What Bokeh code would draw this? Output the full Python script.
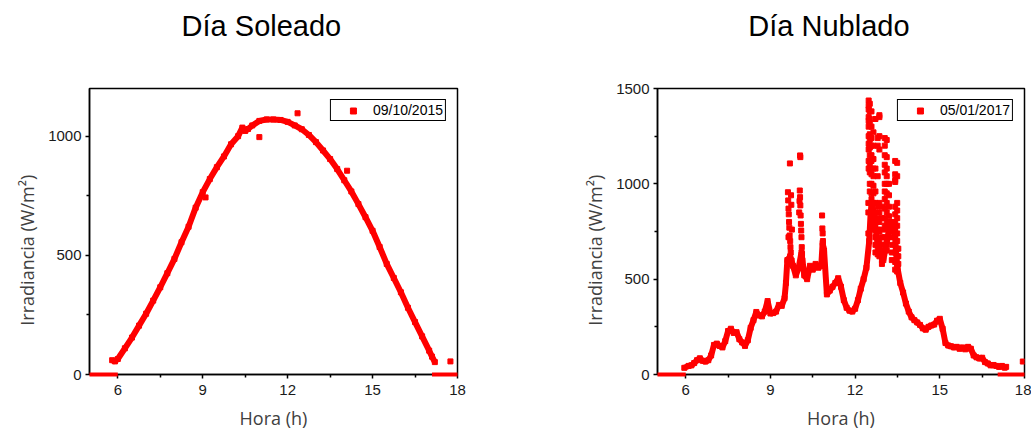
from bokeh.plotting import figure
from bokeh.models import FixedTicker, Legend, LegendItem, Range1d, Title
from bokeh.layouts import row
from bokeh.embed import file_html
from bokeh.resources import INLINE

# ---------------- data: sunny day 09/10/2015 ----------------
sunny_hours = [5.8, 5.9, 6.0, 6.25, 6.5, 6.75, 7.0, 7.25, 7.5, 7.75, 8.0, 8.25, 8.5, 8.75,
               9.0, 9.25, 9.5, 9.75, 10.0, 10.25, 10.4, 10.5, 10.6, 10.75, 11.0, 11.25,
               11.5, 11.75, 12.0, 12.25, 12.5, 12.75, 13.0, 13.25, 13.5, 13.75, 14.0,
               14.25, 14.5, 14.75, 15.0, 15.25, 15.5, 15.75, 16.0, 16.25, 16.5, 16.75,
               17.0, 17.1, 17.2]
sunny_irr = [60, 55, 65, 110, 155, 205, 255, 310, 366, 425, 485, 555, 620, 700,
             765, 820, 870, 915, 966, 1000, 1036, 1022, 1030, 1045, 1064, 1070,
             1070, 1068, 1060, 1045, 1029, 1005, 975, 940, 904, 862, 815,
             768, 715, 660, 603, 535, 464, 405, 345, 280, 220, 160,
             100, 75, 52]
sunny_outlier_hours = [9.1, 11.0, 12.35, 14.1, 17.75]
sunny_outlier_irr = [743, 996, 1096, 855, 55]
sunny_night_start = [5.0, 17.1]
sunny_night_end = [6.0, 18.0]

# ---------------- data: cloudy day 05/01/2017 ----------------
cloudy_hours = [5.95, 6.1, 6.2, 6.3, 6.4, 6.5, 6.6, 6.7, 6.8, 6.9, 7.0, 7.1, 7.2, 7.3, 7.4,
                7.5, 7.6, 7.7, 7.8, 7.9, 8.0, 8.1, 8.2, 8.3, 8.4, 8.5, 8.6, 8.7, 8.8,
                8.9, 9.0, 9.1, 9.2, 9.3, 9.4, 9.5, 9.55, 9.6, 9.7, 9.8, 9.9, 10.0,
                10.1, 10.2, 10.3, 10.4, 10.5, 10.6, 10.7, 10.8, 10.85, 10.9, 11.0,
                11.1, 11.2, 11.3, 11.4, 11.5, 11.6, 11.7, 11.8, 11.9, 12.0, 12.1,
                12.2, 12.3, 12.4, 12.5, 12.55, 12.6, 12.7, 12.8, 12.9, 13.0, 13.1,
                13.2, 13.3, 13.4, 13.45, 13.5, 13.6, 13.7, 13.8, 13.9, 14.0, 14.1,
                14.2, 14.3, 14.4, 14.5, 14.6, 14.7, 14.8, 14.9, 15.0, 15.1, 15.2,
                15.3, 15.4, 15.5, 15.6, 15.7, 15.8, 15.9, 16.0, 16.1, 16.2, 16.3,
                16.4, 16.5, 16.6, 16.7, 16.8, 16.9, 17.0, 17.1, 17.2, 17.3, 17.35]
cloudy_irr = [35, 45, 48, 60, 75, 85, 72, 68, 75, 100, 155, 162, 150, 142, 175,
              228, 240, 218, 222, 185, 168, 150, 180, 245, 285, 328, 310, 305, 330,
              385, 320, 322, 330, 365, 360, 400, 480, 600, 620, 570, 520, 560,
              640, 520, 500, 570, 550, 580, 560, 570, 690, 650, 420,
              440, 460, 480, 505, 460, 390, 350, 335, 330, 345, 390,
              450, 500, 560, 700, 850, 900, 800, 680, 650, 600, 680,
              760, 800, 760, 640, 560, 480, 430, 372, 330, 300, 285,
              273, 260, 242, 235, 250, 257, 262, 282, 292, 240, 165,
              152, 148, 142, 145, 135, 142, 132, 145, 135, 100, 90,
              84, 88, 65, 58, 48, 50, 45, 40, 45, 36, 40]
cloudy_spike_hours = [9.62, 9.63, 9.64, 9.65, 9.66, 9.67, 9.68, 9.69, 9.70, 9.71, 9.72, 9.73,
                      9.74, 9.75, 9.76, 9.64,
                      10.05, 10.06, 10.04, 10.05, 10.06, 10.07, 10.08, 10.09, 10.10, 10.11,
                      10.12, 10.13, 10.03, 10.02,
                      10.83, 10.84, 10.85, 10.86, 10.87,
                      12.48, 12.48, 12.48, 12.48, 12.48, 12.48, 12.48, 12.48, 12.48, 12.48,
                      12.48, 12.47, 12.47, 12.47,
                      12.52, 12.52, 12.52, 12.52, 12.52, 12.52, 12.52, 12.52, 12.52, 12.52,
                      12.52, 12.52,
                      12.58, 12.58, 12.58, 12.58, 12.58, 12.58, 12.58, 12.58, 12.58, 12.58,
                      12.58,
                      12.65, 12.65, 12.65, 12.65, 12.65, 12.65, 12.65, 12.65, 12.65, 12.65,
                      12.65,
                      12.72, 12.72, 12.72, 12.72, 12.72, 12.72, 12.72, 12.72, 12.72, 12.72,
                      12.80, 12.80, 12.80, 12.80, 12.80, 12.80, 12.80, 12.80, 12.80,
                      12.86, 12.86, 12.86, 12.86, 12.86, 12.86, 12.86, 12.86, 12.86, 12.86,
                      12.86,
                      12.95, 12.95, 12.95, 12.95, 12.95, 12.95, 12.95, 12.95,
                      13.05, 13.05, 13.05, 13.05, 13.05, 13.05, 13.05, 13.05, 13.05, 13.05,
                      13.05, 13.05,
                      13.12, 13.12, 13.12, 13.12, 13.12, 13.12, 13.12, 13.12, 13.12, 13.12,
                      13.12, 13.12,
                      13.20, 13.20, 13.20, 13.20, 13.20, 13.20, 13.20,
                      13.30, 13.30, 13.30, 13.30, 13.30, 13.30,
                      13.42, 13.42, 13.42, 13.42, 13.42, 13.42, 13.42, 13.42, 13.42, 13.42,
                      13.42, 13.42, 13.42,
                      13.49, 13.49, 13.49, 13.49, 13.49, 13.49, 13.49, 13.49, 13.49, 13.49,
                      13.49, 13.49,
                      13.53, 13.53, 13.53, 17.94]
cloudy_spike_irr = [956, 913, 870, 840, 800, 770, 729, 1107, 700, 668, 640, 940,
                    890, 598, 760, 720,
                    1149, 1140, 965, 930, 887, 834, 790, 755, 720, 668,
                    633, 598, 910, 850,
                    834, 766, 740, 700, 660,
                    1437, 1410, 1390, 1350, 1330, 1300, 1250, 1210, 1180, 1120,
                    1080, 900, 850, 740,
                    1420, 1380, 1340, 1320, 1260, 1230, 1190, 1150, 1100, 1060,
                    1000, 960,
                    1380, 1300, 1240, 1200, 1150, 1120, 1050, 1000, 950, 920,
                    880,
                    1270, 1200, 1130, 1080, 1040, 990, 950, 900, 840, 800,
                    760,
                    1340, 1080, 960, 900, 850, 800, 760, 720, 680, 640,
                    1240, 1200, 1040, 880, 820, 760, 700, 660, 630,
                    1360, 1350, 1250, 1180, 900, 850, 800, 750, 700, 650,
                    620,
                    880, 820, 760, 720, 680, 640, 600, 580,
                    1240, 1200, 1150, 1100, 1060, 1000, 960, 920, 870, 820,
                    780, 720,
                    1230, 1140, 1080, 1040, 1000, 950, 900, 850, 800, 760,
                    700, 650,
                    1000, 940, 880, 830, 790, 750, 720,
                    800, 760, 720, 680, 640, 600,
                    1120, 1050, 1020, 1010, 880, 840, 800, 760, 720, 680,
                    640, 590, 550,
                    1110, 1040, 900, 860, 820, 780, 740, 700, 660, 620,
                    580, 540,
                    660, 620, 580, 68]
cloudy_night_start = [5.0, 17.05]
cloudy_night_end = [6.0, 18.0]

x_ticks = [6, 9, 12, 15, 18]
x_minor = [7.5, 10.5, 13.5, 16.5]

RED = "#ff0000"
PAD = "\u00a0\u00a0\u00a0"


def make_fig(title, label, hours, irr, extra_h, extra_w, n0, n1, ymax, yticks, yminor,
             border_left, border_right, frame_w):
    p = figure(frame_width=frame_w, frame_height=286,
               x_range=Range1d(5, 18), y_range=Range1d(0, ymax),
               min_border_left=border_left, min_border_right=border_right,
               min_border_top=88, min_border_bottom=56,
               output_backend="svg", toolbar_location=None)
    p.title.text = title + PAD
    p.title.align = "center"
    p.title.text_font = "Liberation Sans"
    p.title.text_font_size = "29px"
    p.title.text_font_style = "normal"
    p.title.text_color = "black"
    # invisible spacer between title and frame
    p.add_layout(Title(text="\u00a0", text_font_size="26px"), "above")
    p.xgrid.visible = False
    p.ygrid.visible = False
    p.outline_line_color = "black"
    p.outline_line_width = 1.5
    p.outline_line_alpha = 1.0

    p.line(hours, irr, line_color=RED, line_width=6)
    sc = p.scatter(hours + extra_h, irr + extra_w, marker="square", size=5,
                   fill_color=RED, line_color=RED)
    p.segment(x0=n0, y0=[0] * len(n0), x1=n1, y1=[0] * len(n1),
              line_color=RED, line_width=4, level="overlay")

    legend = Legend(items=[LegendItem(label=label, renderers=[sc])],
                    location="top_right")
    legend.margin = 11
    legend.padding = 2
    legend.spacing = 0
    legend.glyph_width = 40
    legend.glyph_height = 15
    legend.label_height = 15
    legend.label_standoff = 0
    legend.label_text_font = "Liberation Sans"
    legend.label_text_font_size = "14px"
    legend.label_text_color = "black"
    legend.border_line_color = "black"
    legend.border_line_width = 1
    legend.border_line_alpha = 1
    legend.background_fill_alpha = 1
    p.add_layout(legend)

    for ax, ticks, minor in ((p.xaxis[0], x_ticks, x_minor), (p.yaxis[0], yticks, yminor)):
        ax.ticker = FixedTicker(ticks=ticks, minor_ticks=minor)
        ax.axis_line_color = "black"
        ax.axis_line_width = 1.5
        ax.major_tick_line_color = "black"
        ax.major_tick_line_width = 1.5
        ax.minor_tick_line_color = "black"
        ax.minor_tick_line_width = 1.5
        ax.major_tick_in = 0
        ax.major_tick_out = 4
        ax.minor_tick_in = 0
        ax.minor_tick_out = 3
        ax.major_label_text_font = "Liberation Sans"
        ax.major_label_text_font_size = "15px"
        ax.major_label_text_color = "#1a1a1a"
        ax.axis_label_text_font = "Open Sans"
        ax.axis_label_text_font_size = "18px"
        ax.axis_label_text_font_style = "normal"
        ax.axis_label_text_color = "#404040"
        ax.major_label_standoff = 4
        ax.axis_label_standoff = 6
    p.xaxis[0].major_label_standoff = 6
    p.xaxis[0].axis_label_standoff = 8
    p.xaxis[0].axis_label = "Hora (h)"
    p.yaxis[0].axis_label = "Irradiancia (W/m²)\u00a0\u00a0\u00a0\u00a0\u00a0\u00a0\u00a0\u00a0"
    return p


p1 = make_fig("Día Soleado", "09/10/2015", sunny_hours, sunny_irr,
              sunny_outlier_hours, sunny_outlier_irr, sunny_night_start, sunny_night_end,
              1200, [0, 500, 1000], [250, 750], 89, 58, 368)
p2 = make_fig("Día Nublado", "05/01/2017", cloudy_hours, cloudy_irr,
              cloudy_spike_hours, cloudy_spike_irr, cloudy_night_start, cloudy_night_end,
              1500, [0, 500, 1000, 1500], [250, 750, 1250], 142, 7, 367)

layout = row(p1, p2)
open("out.html", "w").write(file_html(layout, INLINE))
